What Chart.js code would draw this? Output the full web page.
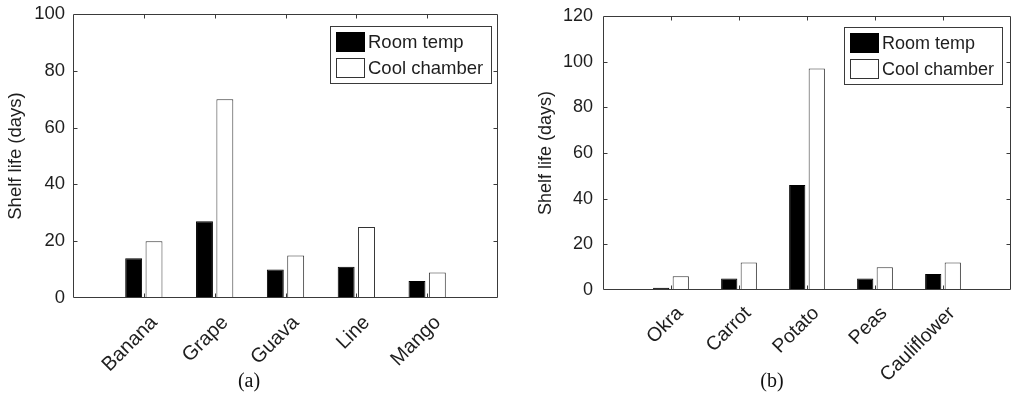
<!DOCTYPE html>
<html>
<head>
<meta charset="utf-8">
<title>Shelf life</title>
<script src="https://cdn.jsdelivr.net/npm/chart.js@4/dist/chart.umd.min.js"></script>
<style>
  html, body { margin: 0; padding: 0; background: #fff; }
  body { width: 1012px; height: 395px; position: relative; overflow: hidden; }
  .panel { position: absolute; top: 0; width: 506px; height: 395px; }
  .caption {
    position: absolute; top: 369px; width: 60px; margin-left: -30px;
    text-align: center; font: 20px "Liberation Serif", "DejaVu Serif", serif; color: #111;
  }
</style>
</head>
<body>
<div class="panel" style="left:0"><canvas id="chartFruit"></canvas></div>
<div class="panel" style="left:506px"><canvas id="chartVeg"></canvas></div>
<div class="caption" style="left:249px">(a)</div>
<div class="caption" style="left:772px">(b)</div>

<script>
// --- data ---
const fruitLabels = ['Banana', 'Grape', 'Guava', 'Line', 'Mango'];
const fruitRoomTemp = [14, 27, 10, 11, 6];
const fruitCoolChamber = [20, 70, 15, 25, 9];
const fruitYMax = 100;

const vegLabels = ['Okra', 'Carrot', 'Potato', 'Peas', 'Cauliflower'];
const vegRoomTemp = [1, 5, 46, 5, 7];
const vegCoolChamber = [6, 12, 97, 10, 12];
const vegYMax = 120;

const yStep = 20;
const seriesNames = ['Room temp', 'Cool chamber'];

const AXIS_COLOR = '#3a3a3a';
const TEXT_COLOR = '#1e1e1e';

Chart.defaults.font.family = "'Liberation Sans', Arial, sans-serif";
Chart.defaults.color = TEXT_COLOR;

// box around the axes with inward tick marks on all four sides (matlab look)
const matlabAxes = {
    id: 'matlabAxes',
    afterDatasetsDraw(chart) {
        const { ctx, chartArea: a, scales: { x, y } } = chart;
        const len = 4;
        ctx.save();
        ctx.strokeStyle = AXIS_COLOR;
        ctx.lineWidth = 1;
        const l = Math.round(a.left) + 0.5, r = Math.round(a.right) - 0.5;
        const t = Math.round(a.top) + 0.5, b = Math.round(a.bottom) - 0.5;
        ctx.beginPath();
        ctx.rect(l, t, r - l, b - t);
        x.ticks.forEach(tk => {
            if (tk.value <= x.min || tk.value >= x.max) return;
            const px = Math.round(x.getPixelForValue(tk.value)) + 0.5;
            ctx.moveTo(px, b); ctx.lineTo(px, b - len);
            ctx.moveTo(px, t); ctx.lineTo(px, t + len);
        });
        y.ticks.forEach(tk => {
            if (tk.value <= y.min || tk.value >= y.max) return;
            const py = Math.round(y.getPixelForValue(tk.value)) + 0.5;
            ctx.moveTo(l, py); ctx.lineTo(l + len, py);
            ctx.moveTo(r, py); ctx.lineTo(r - len, py);
        });
        ctx.stroke();
        ctx.restore();
    }
};

// boxed legend in the top right corner of the plot area
const boxLegend = {
    id: 'boxLegend',
    afterDraw(chart, args, opts) {
        const { ctx, chartArea: a } = chart;
        const sets = chart.data.datasets;
        ctx.save();
        ctx.font = opts.fontSize + "px 'Liberation Sans', Arial, sans-serif";
        const textW = Math.max(...sets.map(d => ctx.measureText(d.label).width));
        const padL = 5.5, swW = 29, swH = 20, gap = 3, padR = 8, rowH = 26, padT = 5;
        const w = padL + swW + gap + textW + padR;
        const h = padT + rowH * sets.length;
        const right = a.right - opts.right;
        const left = Math.round(right - w) + 0.5;
        const top = Math.round(a.top + opts.top) + 0.5;
        ctx.fillStyle = '#fff';
        ctx.fillRect(left, top, w, h);
        ctx.strokeStyle = AXIS_COLOR;
        ctx.lineWidth = 1;
        ctx.strokeRect(left, top, Math.round(w), Math.round(h));
        sets.forEach((d, i) => {
            const sy = Math.round(top + padT + i * rowH);
            const sx = Math.round(left + padL);
            ctx.fillStyle = d.backgroundColor;
            ctx.fillRect(sx, sy, swW, swH);
            ctx.strokeStyle = d.borderColor;
            ctx.strokeRect(sx + 0.5, sy + 0.5, swW - 1, swH - 1);
            ctx.fillStyle = TEXT_COLOR;
            ctx.textBaseline = 'middle';
            ctx.textAlign = 'left';
            ctx.fillText(d.label, sx + swW + gap, sy + swH / 2 + 1);
        });
        ctx.restore();
    }
};

function buildChart(canvasId, labels, room, cool, yMax, look) {
    const ctx = document.getElementById(canvasId).getContext('2d');
    const toPoints = vals => vals.map((v, i) => ({ x: i + 1, y: v }));
    return new Chart(ctx, {
        type: 'bar',
        data: {
            datasets: [
                { label: seriesNames[0], data: toPoints(room), backgroundColor: '#000000', borderColor: '#000000', borderWidth: 1 },
                { label: seriesNames[1], data: toPoints(cool), backgroundColor: '#ffffff', borderColor: '#333333', borderWidth: 1 }
            ]
        },
        options: {
            responsive: true,
            maintainAspectRatio: false,
            animation: false,
            layout: { padding: { left: 0, right: look.padRight, top: look.padTop, bottom: 0 } },
            datasets: { bar: { categoryPercentage: 0.575, barPercentage: 0.83 } },
            scales: {
                x: {
                    type: 'linear',
                    min: 0,
                    max: labels.length + 1,
                    offset: false,
                    grid: { display: false, offset: false, drawTicks: false },
                    border: { display: false },
                    // pin the plot box: fixed axis height, no label overhang padding
                    afterFit: s => { s.height = look.xHeight; s.paddingLeft = 0; s.paddingRight = 0; },
                    ticks: {
                        stepSize: 1,
                        autoSkip: false,
                        minRotation: 45,
                        maxRotation: 45,
                        padding: look.xPad,
                        labelOffset: look.xShift,
                        font: { size: look.xFontSize },
                        color: TEXT_COLOR,
                        callback: v => labels[v - 1] || ''
                    }
                },
                y: {
                    min: 0,
                    max: yMax,
                    grid: { display: false, drawTicks: false },
                    border: { display: false },
                    afterFit: s => { s.width = look.yWidth; s.paddingTop = 0; s.paddingBottom = 0; },
                    ticks: { stepSize: yStep, padding: look.yPad, font: { size: look.fontSize }, color: TEXT_COLOR },
                    title: {
                        display: true,
                        text: 'Shelf life (days)',
                        color: TEXT_COLOR,
                        font: { size: look.fontSize },
                        padding: { top: look.titlePad, bottom: 0 }
                    }
                }
            },
            plugins: {
                legend: { display: false },
                tooltip: { enabled: false },
                boxLegend: { fontSize: look.fontSize, right: look.legRight, top: look.legTop }
            }
        },
        plugins: [matlabAxes, boxLegend]
    });
}

buildChart('chartFruit', fruitLabels, fruitRoomTemp, fruitCoolChamber, fruitYMax, {
    padRight: 8, padTop: 14, xHeight: 97, yWidth: 73, yPad: 8, xPad: 13, xShift: 10.5, titlePad: 5,
    fontSize: 18.5, xFontSize: 20, legRight: 7, legTop: 12
});
buildChart('chartVeg', vegLabels, vegRoomTemp, vegCoolChamber, vegYMax, {
    padRight: 1, padTop: 16, xHeight: 105, yWidth: 97, yPad: 10, xPad: 12, xShift: 9, titlePad: 29,
    fontSize: 18, xFontSize: 19.5, legRight: 9, legTop: 11
});
</script>
</body>
</html>
